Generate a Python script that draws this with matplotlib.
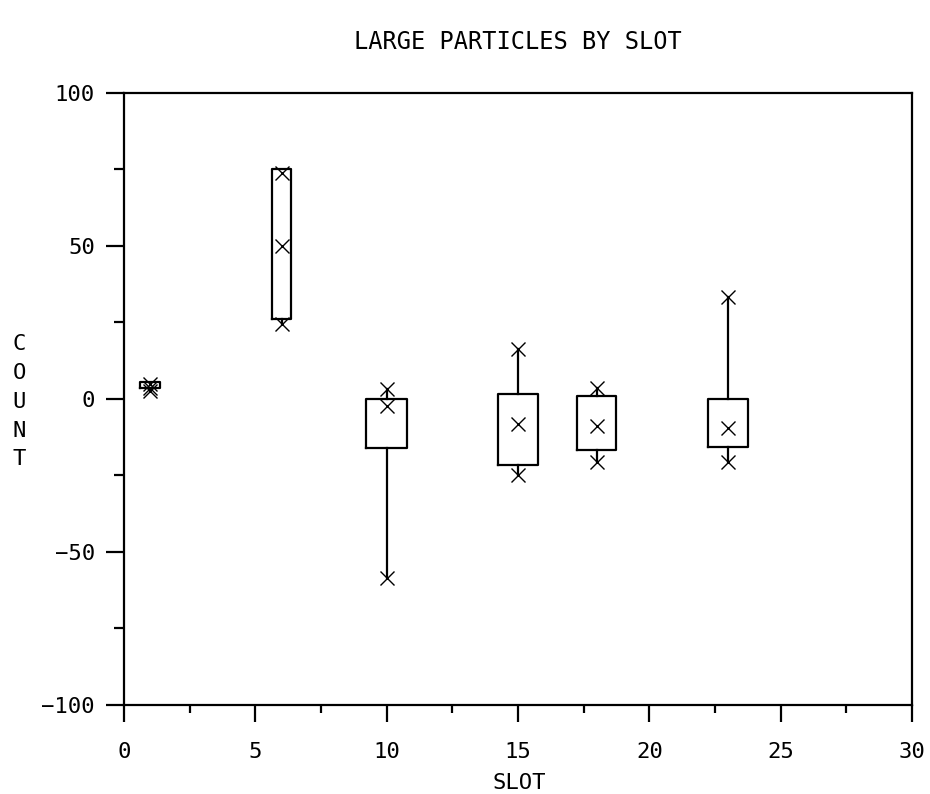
#!/usr/bin/env python
import matplotlib
matplotlib.use("Agg")
import matplotlib.pyplot as plt

# Box summary per slot: whisker ends, quartiles and median
slots   = [1, 6, 10, 15, 18, 23]
lows    = [2.5, 24.5, -58.5, -24.8, -20.6, -20.6]
q1s     = [3.5, 26.0, -16.0, -21.6, -16.7, -15.6]
medians = [3.5, 50.0, -2.3, -8.2, -8.8, -9.5]
q3s     = [5.5, 75.0, 0.0, 1.6, 1.0, 0.0]
highs   = [5.0, 74.0, 3.3, 16.3, 3.6, 33.3]
widths  = [0.75, 0.72, 1.55, 1.55, 1.5, 1.5]

plt.rcParams["font.family"] = ["DejaVu Sans Mono"]
plt.rcParams["font.size"] = 16

fig = plt.figure(figsize=(9.3, 7.94), dpi=100)
ax = fig.add_axes([0.1333, 0.1121, 0.8473, 0.7708])

stats = []
for lo, a, m, b, hi in zip(lows, q1s, medians, q3s, highs):
	stats.append({"whislo": min(lo, a), "q1": a, "med": m, "q3": b, "whishi": max(hi, b)})

line = {"color": "black", "linewidth": 1.6}
ax.bxp(stats, positions=slots, widths=widths, showcaps=False, showfliers=False,
	   boxprops=line, whiskerprops=line, medianprops={"linestyle": "none"},
	   manage_ticks=False)

# Minimum, median and maximum marked with crosses
for s, lo, m, hi in zip(slots, lows, medians, highs):
	ax.plot([s, s, s], [lo, m, hi], linestyle="none", marker="x",
			markersize=10, markeredgewidth=1.0, color="black")

ax.set_xlim(0, 30)
ax.set_ylim(-100, 100)
ax.set_xticks(range(0, 31, 5))
ax.set_xticks([2.5 + 5 * i for i in range(6)], minor=True)
ax.set_yticks([-100, -50, 0, 50, 100])
ax.set_yticks([-75, -25, 25, 75], minor=True)

for sp in ax.spines.values():
	sp.set_linewidth(1.6)
ax.tick_params(axis="both", which="both", direction="out", width=1.6, colors="black")
ax.tick_params(axis="x", which="major", length=12.5, pad=14)
ax.tick_params(axis="x", which="minor", length=6)
ax.tick_params(axis="y", which="major", length=13, pad=8)
ax.tick_params(axis="y", which="minor", length=7)

fig.text(0.557, 0.947, "LARGE PARTICLES BY SLOT", ha="center", va="center", fontsize=17)
fig.text(0.558, 0.014, "SLOT", ha="center", va="center")
fig.text(0.021, 0.494, "\n".join("COUNT"), ha="center", va="center", linespacing=1.55)

fig.savefig("out.png", dpi=100)
